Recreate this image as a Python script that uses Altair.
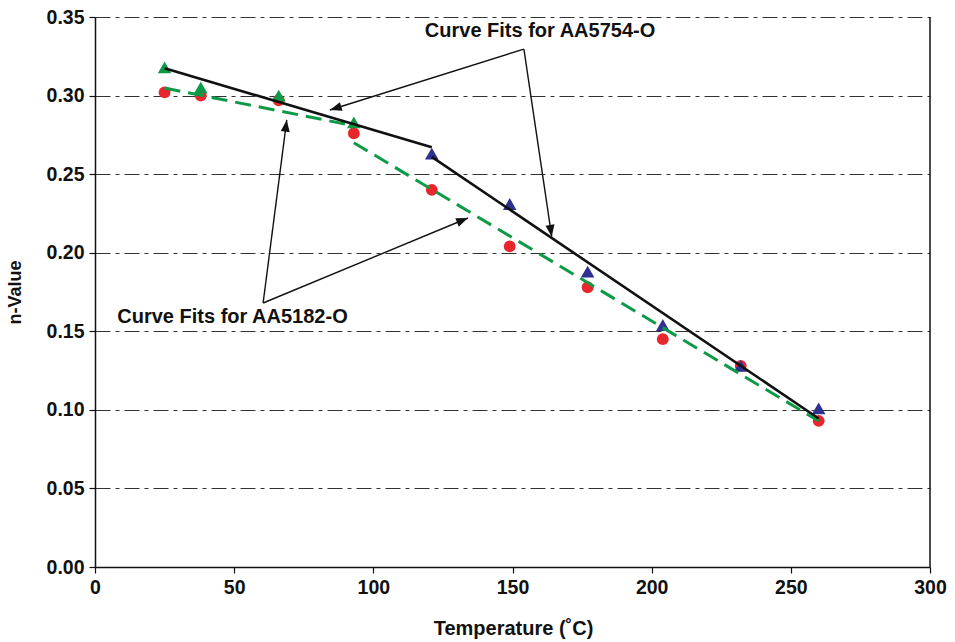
import math
import altair as alt
import pandas as pd

# ---- measured data ----
temps = [25, 38, 66, 93, 121, 149, 177, 204, 232, 260]
n_5182 = [0.302, 0.300, 0.297, 0.276, 0.240, 0.204, 0.178, 0.145, 0.128, 0.093]
n_5754 = [0.318, 0.305, 0.300, 0.283, 0.263, 0.231, 0.188, 0.154, 0.128, 0.101]
alloy_5754_group = ["low", "low", "low", "low", "high", "high", "high", "high", "high", "high"]

# curve fits (segment endpoints)
fit_5754_seg = ["a", "a", "b", "b"]
fit_5754_t = [25, 121, 121, 260]
fit_5754_n = [0.3174, 0.2671, 0.261, 0.0945]
fit_5182_seg = ["a", "a", "b", "b"]
fit_5182_t = [25, 93, 93, 260]
fit_5182_n = [0.3048, 0.2808, 0.2700, 0.0929]

# annotations (data coordinates)
label_texts = ["Curve Fits for AA5754-O", "Curve Fits for AA5182-O"]
label_t = [159.9, 49.4]
label_n = [0.3411, 0.1591]
arrow_from_t = [154.1, 154.1, 60.4, 60.4]
arrow_from_n = [0.3296, 0.3296, 0.168, 0.168]
arrow_to_t = [84.4, 164.1, 68.9, 134.0]
arrow_to_n = [0.2908, 0.2102, 0.2845, 0.2221]

x_ticks = [0, 50, 100, 150, 200, 250, 300]
y_ticks = [0.0, 0.05, 0.10, 0.15, 0.20, 0.25, 0.30, 0.35]

W, H = 835, 550
FONT = "Liberation Sans"
INK = "#111111"

xs = alt.Scale(domain=[0, 300], nice=False, zero=True)
ys = alt.Scale(domain=[0, 0.35], nice=False, zero=True)

pts = pd.DataFrame({"t": temps, "n5182": n_5182, "n5754": n_5754, "grp": alloy_5754_group})
fit1 = pd.DataFrame({"t": fit_5754_t, "n": fit_5754_n, "seg": fit_5754_seg})
fit2 = pd.DataFrame({"t": fit_5182_t, "n": fit_5182_n, "seg": fit_5182_seg})
labels = pd.DataFrame({"t": label_t, "n": label_n, "txt": label_texts})

sx, sy = W / 300.0, H / 0.35
angs = []
for a, b, c, d in zip(arrow_from_t, arrow_from_n, arrow_to_t, arrow_to_n):
    dx = (c - a) * sx
    dy = -(d - b) * sy
    angs.append(math.degrees(math.atan2(dx, -dy)) % 360)
arrows = pd.DataFrame({"t0": arrow_from_t, "n0": arrow_from_n,
                       "t1": arrow_to_t, "n1": arrow_to_n, "ang": angs})

common_axis = dict(
    labelFont=FONT, labelFontSize=19.5, labelFontWeight="bold", labelColor=INK,
    titleFont=FONT, titleFontWeight="bold", titleColor=INK,
    domainColor=INK, domainWidth=1.5, tickColor=INK, tickWidth=1.2, tickSize=6,
    labelFlush=False, labelOverlap=False,
)

x_enc = alt.X("t:Q", scale=xs,
              axis=alt.Axis(values=x_ticks, format="d", title="Temperature (˚C)",
                            grid=False, labelPadding=5, titleFontSize=20,
                            titleX=418, titleY=61, titleBaseline="middle",
                            titleAlign="center", **common_axis))
y_axis = alt.Axis(values=y_ticks, format=".2f", title="n-Value",
                  grid=True, gridDash=[15, 5, 4, 5], gridColor="#333333",
                  gridWidth=1, labelPadding=5, titleFontSize=18,
                  titleX=-80, titleY=275, titleAlign="center",
                  titleBaseline="middle", titleAngle=270, **common_axis)

base = alt.Chart(pts)

red = base.mark_point(shape="circle", filled=True, size=140, color="#e8262b",
                      opacity=1).encode(x=x_enc, y=alt.Y("n5182:Q", scale=ys, axis=y_axis))

tri = base.mark_point(shape="triangle-up", filled=True, size=185, opacity=1).encode(
    x=alt.X("t:Q", scale=xs),
    y=alt.Y("n5754:Q", scale=ys),
    color=alt.Color("grp:N", scale=alt.Scale(domain=["low", "high"],
                                             range=["#0d9a47", "#2e3192"]), legend=None),
)

line_black = alt.Chart(fit1).mark_line(color=INK, strokeWidth=2.6).encode(
    x=alt.X("t:Q", scale=xs), y=alt.Y("n:Q", scale=ys), detail="seg:N")

line_green = alt.Chart(fit2).mark_line(color="#0d9a47", strokeWidth=3,
                                       strokeDash=[16, 8]).encode(
    x=alt.X("t:Q", scale=xs), y=alt.Y("n:Q", scale=ys), detail="seg:N")

arrow_lines = alt.Chart(arrows).mark_rule(color=INK, strokeWidth=1.4).encode(
    x=alt.X("t0:Q", scale=xs), y=alt.Y("n0:Q", scale=ys),
    x2="t1:Q", y2="n1:Q")

arrow_heads = alt.Chart(arrows).mark_point(
    shape="M0,0 L-0.38,1 L0.38,1 Z", filled=True, color=INK,
    size=560, opacity=1, strokeWidth=0).encode(
    x=alt.X("t1:Q", scale=xs), y=alt.Y("n1:Q", scale=ys),
    angle=alt.Angle("ang:Q", scale=None))

texts = alt.Chart(labels).mark_text(font=FONT, fontSize=20, fontWeight="bold",
                                    color=INK, baseline="middle",
                                    align="center").encode(
    x=alt.X("t:Q", scale=xs), y=alt.Y("n:Q", scale=ys), text="txt:N")

right_border = alt.Chart(pd.DataFrame({"t": [300]})).mark_rule(
    color=INK, strokeWidth=1.5).encode(x=alt.X("t:Q", scale=xs))

chart = alt.layer(
    red, tri, line_green, line_black, arrow_lines, arrow_heads, texts, right_border
).properties(
    width=W, height=H,
    background="white",
    autosize=alt.AutoSizeParams(type="none"),
    padding={"left": 95, "top": 17, "right": 25, "bottom": 75},
).configure_view(stroke=None)

chart.save("out.html", embed_options={"renderer": "svg", "actions": False})
